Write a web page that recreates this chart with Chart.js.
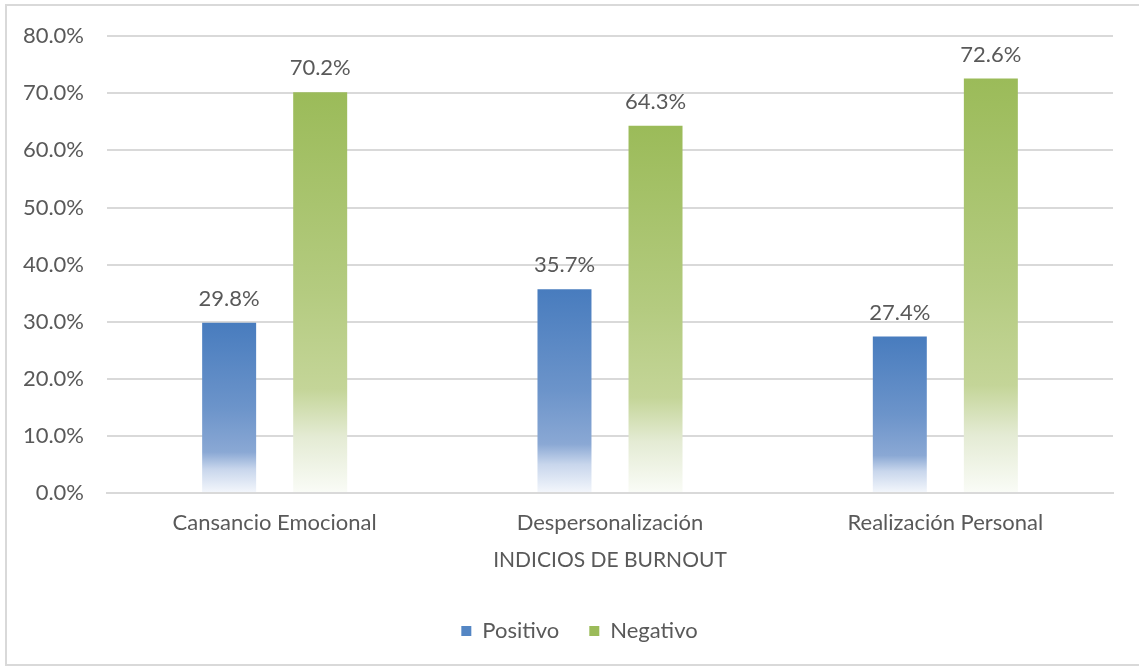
<!DOCTYPE html>
<html>
<head>
<meta charset="utf-8">
<script src="https://cdn.jsdelivr.net/npm/chart.js@4"></script>
<style>
  html, body { margin: 0; padding: 0; background: #fff; }
  #wrap { position: absolute; left: 0; top: 0; width: 1139px; height: 668px; }
  #frame { position: absolute; left: 5px; top: 4px; width: 1200px; height: 662px;
           border-left: 2px solid #d9d9d9; border-top: 2px solid #d9d9d9; border-bottom: 2px solid #d9d9d9; box-sizing: border-box; }
  canvas { position: absolute; left: 0; top: 0; }
</style>
</head>
<body>
<div id="wrap">
  <div id="frame"></div>
  <canvas id="c" width="1139" height="668"></canvas>
</div>
<script>
const categories = ["Cansancio Emocional", "Despersonalización", "Realización Personal"];
const seriesNames = ["Positivo", "Negativo"];
const positivo = [29.8, 35.7, 27.4];
const negativo = [70.2, 64.3, 72.6];
const yTicks = [0, 10, 20, 30, 40, 50, 60, 70, 80];
const axisTitle = "INDICIOS DE BURNOUT";

const FONT = "Lato, 'Open Sans', sans-serif";
const TXT = "#595959";

const blueSolid = "rgb(84,134,196)";
const greenSolid = "rgb(155,187,89)";
const blueStops = [[0, "rgb(72,124,190)"], [0.5, "rgb(108,148,202)"], [0.76, "rgb(138,168,212)"], [0.86, "rgb(200,214,236)"], [1, "rgb(244,247,252)"]];
const greenStops = [[0, "rgb(155,187,89)"], [0.5, "rgb(180,203,128)"], [0.74, "rgb(196,213,152)"], [0.86, "rgb(228,235,212)"], [1, "rgb(250,252,247)"]];

function gradient(stops, solid) {
  return function (ctx) {
    const chart = ctx.chart;
    if (ctx.type !== 'data' || !chart.chartArea || !chart.scales.y) return solid;
    const y = chart.scales.y;
    const top = y.getPixelForValue(ctx.raw);
    const bot = y.getPixelForValue(0);
    if (!isFinite(top) || !isFinite(bot) || top === bot) return solid;
    const g = chart.ctx.createLinearGradient(0, top, 0, bot);
    stops.forEach(s => g.addColorStop(s[0], s[1]));
    return g;
  };
}

const valueLabels = {
  id: 'valueLabels',
  afterDatasetsDraw(chart) {
    const c = chart.ctx;
    c.save();
    c.font = "22px " + FONT;
    c.fillStyle = TXT;
    c.textAlign = "center";
    c.textBaseline = "bottom";
    chart.data.datasets.forEach((ds, i) => {
      const meta = chart.getDatasetMeta(i);
      meta.data.forEach((bar, j) => {
        c.fillText(ds.data[j].toFixed(1) + "%", bar.x, bar.y - 13);
      });
    });
    c.restore();
  }
};

// Legend in the reference is centred on the plot area rather than the canvas
const legendShift = {
  id: 'legendShift',
  afterLayout(chart) {
    if (chart.legend) { chart.legend.left += 23; chart.legend.right += 23; }
  }
};

const legendColors = [blueSolid, greenSolid];

new Chart(document.getElementById("c"), {
  type: "bar",
  data: {
    labels: categories,
    datasets: [
      { label: seriesNames[0], data: positivo, backgroundColor: gradient(blueStops, blueSolid), borderWidth: 0,
        categoryPercentage: 0.543, barPercentage: 0.593 },
      { label: seriesNames[1], data: negativo, backgroundColor: gradient(greenStops, greenSolid), borderWidth: 0,
        categoryPercentage: 0.543, barPercentage: 0.593 }
    ]
  },
  options: {
    responsive: false,
    animation: false,
    devicePixelRatio: 1,
    layout: { padding: { left: 0, right: 26, top: 30, bottom: 16 } },
    plugins: {
      tooltip: { enabled: false },
      legend: {
        position: "bottom",
        labels: {
          font: { family: FONT, size: 22 },
          color: TXT,
          boxWidth: 10,
          boxHeight: 10,
          padding: 30,
          generateLabels(chart) {
            return chart.data.datasets.map((ds, i) => ({
              text: ds.label,
              fillStyle: legendColors[i],
              strokeStyle: legendColors[i],
              lineWidth: 0,
              hidden: false,
              datasetIndex: i,
              fontColor: TXT
            }));
          }
        }
      }
    },
    scales: {
      y: {
        min: 0, max: 80,
        afterFit(scale) { scale.width = 107; },
        afterBuildTicks(scale) { scale.ticks = yTicks.map(v => ({ value: v })); },
        ticks: {
          font: { family: FONT, size: 22 },
          color: TXT,
          padding: 23,
          callback: v => Number(v).toFixed(1) + "%"
        },
        grid: { color: "#d9d9d9", lineWidth: 2, drawTicks: false },
        border: { display: false }
      },
      x: {
        afterFit(scale) { scale.height = 97; },
        ticks: { font: { family: FONT, size: 22 }, color: TXT, padding: 17 },
        grid: { display: false, drawTicks: false },
        border: { display: true, color: "#d9d9d9", width: 2 },
        title: { display: true, text: axisTitle, font: { family: FONT, size: 21 }, color: TXT, padding: { top: 0, bottom: 17 } }
      }
    }
  },
  plugins: [valueLabels, legendShift]
});
</script>
</body>
</html>
